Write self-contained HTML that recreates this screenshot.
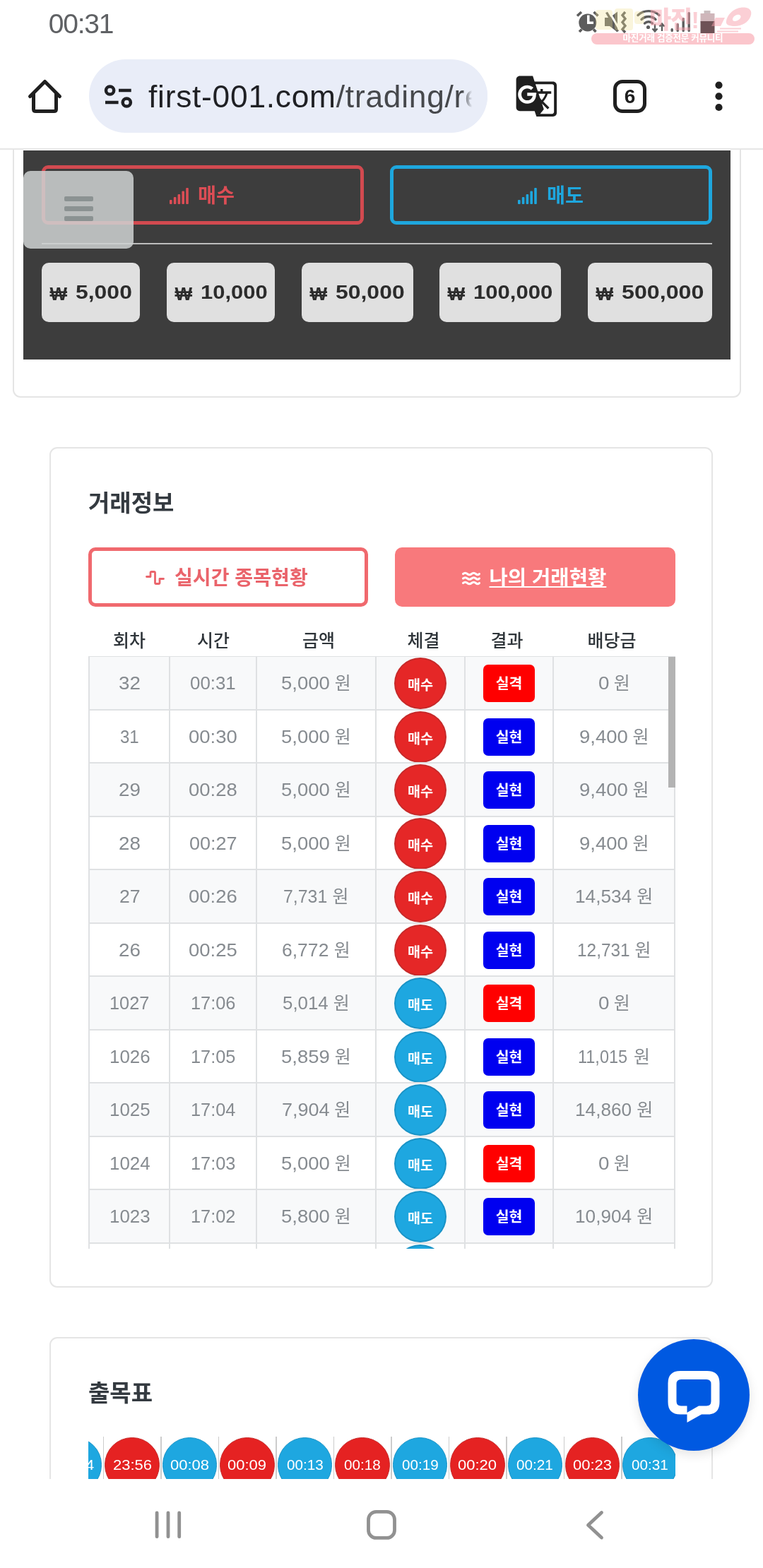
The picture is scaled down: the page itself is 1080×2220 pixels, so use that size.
<!DOCTYPE html>
<html lang="ko">
<head>
<meta charset="utf-8">
<title>first-001.com</title>
<style>
*{box-sizing:border-box;margin:0;padding:0}
html,body{width:1080px;height:2220px;overflow:hidden;background:#fff}
body{position:relative;font-family:"Liberation Sans","Noto Sans CJK KR",sans-serif;color:#212529}
.abs{position:absolute}
.n{display:inline-block;text-align:left;white-space:nowrap}
.n i{display:inline-block;font-style:normal;transform-origin:0 50%}
svg{position:absolute;overflow:visible}
/* status bar */
#time{left:68.700px;top:12px;font-size:39px;line-height:44px;color:#5f6164;letter-spacing:-1.2px;white-space:nowrap}
/* toolbar */
#pill{left:126px;top:84px;width:564px;height:104px;border-radius:52px;background:#e9edf8;overflow:hidden}
#url{left:84px;top:25.300px;font-size:44.300px;letter-spacing:.75px;line-height:56px;color:#1f2024;white-space:nowrap}
#urlfade{right:0;top:0;width:36px;height:104px;background:linear-gradient(90deg,rgba(233,237,248,0) 0,#e9edf8 40%)}
#tabs{left:868px;top:113px;width:47px;height:47px;border:5px solid #1f1f1f;border-radius:13px;font-size:28px;font-weight:700;line-height:37px;text-align:center;color:#1f1f1f}
#tbline{left:0;top:210px;z-index:3;width:1080px;height:2px;background:#e6e6e6}
/* page */
#page{left:0;top:0;width:1080px;height:2220px;clip-path:inset(212px 0 126px 0)}
#card1{left:18px;top:150px;width:1031px;height:413px;border:2px solid #e5e5e5;border-radius:11px;background:#fff}
#dark{left:33px;top:213px;width:1001px;height:296px;background:#3d3d3d}
.obtn{top:234px;height:84px;border:5px solid;border-radius:9px;font-size:28.3px;font-weight:700;white-space:nowrap}
.obtn span{position:absolute;top:0px;line-height:76px}
#buy{left:59px;width:456px;border-color:#d24a50;color:#dc4d55}
#sell{left:552px;width:456px;border-color:#1ea7de;color:#1ea7de}
#hr1{left:59px;top:344px;width:949px;height:2px;background:#bdbdbd}
.amt em{position:absolute;top:2px;font-style:normal;font-size:26px;line-height:84px}
.amt span{position:absolute;top:0;line-height:84px;transform:scaleX(1.16);transform-origin:0 50%}
.amt{top:372px;height:84px;border-radius:10px;background:#e0e0e0;color:#2c2c2c;font-weight:700;font-size:28px;white-space:nowrap}
#ham{left:33px;top:242px;width:156px;height:110px;border-radius:10px;background:rgba(206,210,210,.86)}
#ham i{position:absolute;left:58px;width:41px;height:7px;border-radius:2px;background:#8b9292}
.card{left:70px;width:939px;border:2px solid #e5e5e5;border-radius:11px;background:#fff}
.h{font-weight:700;font-size:33px;color:#343a40;white-space:nowrap}
.tab{top:775px;height:84px;border-radius:10px;font-size:27px;font-weight:700;white-space:nowrap}
.tab span{position:absolute;top:0;line-height:80px}
#tab1{left:125px;width:396px;border:5px solid #f0696e;color:#ea646b}
#tab2{left:559px;width:397px;background:#f8797c;color:#fff}
#thead{left:125px;top:886px;width:831px;height:42px;font-size:25px;font-weight:500;color:#2f353a}
#thead span{position:absolute;top:0;line-height:42px;text-align:center;white-space:nowrap}
#tbl{left:125px;top:929px;width:831px;height:839px;overflow:hidden}
.r{position:absolute;left:0;width:831px;border-top:2px solid #dfe1e3}
.r.o{background:#f8f9fa}
.r b{position:absolute;top:-2px;width:2px;height:78px;background:#dfe1e3}
.r>span{position:absolute;top:1px;height:74px;line-height:72px;text-align:center;font-size:25px;color:#868b90;white-space:nowrap}
.c{position:absolute;width:74px;height:73px;border-radius:50%;top:1px;left:433px;color:#fff;font-weight:700;font-size:19.600px;line-height:74px;text-align:center}
.c.b{background:#e52727;border:2px solid #c62a2a}
.c.s{background:#1ea7e0;border:2px solid #1a93c6}
.g{position:absolute;left:559px;top:11px;width:73px;height:53px;border-radius:7px;color:#fff;font-weight:700;font-size:20.5px;line-height:53px;text-align:center}
.g.l{background:#ff0000}
.g.w{background:#0000f0}
#sb{left:946px;top:930px;width:10px;height:185px;background:#b3b3b3}
#navbar{left:0;top:2094px;width:1080px;height:126px;background:#fff}
#fab{left:903px;top:1896px;width:158px;height:158px;border-radius:50%;background:#0059e1;box-shadow:0 5px 16px rgba(0,0,0,.11)}
#strip{left:125px;top:2030px;width:831px;height:64px;overflow:hidden}
.k{position:absolute;top:5px;width:77.500px;height:77.500px;border-radius:50%;color:#fff;font-size:20px;line-height:76px;text-align:center;white-space:nowrap}
.k.b{background:#e52222;border:1px solid #c62a2a}
.k.s{background:#1ea7e0;border:1px solid #1a93c6}
.v{position:absolute;top:4px;width:1.600px;height:60px;background:#cccccc}
/* watermark */
#wm{left:837px;top:47px;width:231px;height:16px;border-radius:8px;background:#fbc6cc;color:#fff;font-size:12.6px;font-weight:700;line-height:15px;text-align:center;white-space:nowrap;letter-spacing:-0.3px}
#wmlogo{left:919px;top:6px;font-size:34px;line-height:44px;font-weight:900;color:rgba(248,160,172,.5);white-space:nowrap;letter-spacing:-1.5px}
</style>
</head>
<body>
<!-- status bar -->
<div id="time" class="abs">00:31</div>
<svg id="sticons" style="left:800px;top:0" width="280" height="70" viewBox="800 0 280 70">
 <g fill="#5c5c5c" stroke="none">
  <circle cx="831.8" cy="32" r="12.5"/>
  <path d="M838 21.500h-3.500v12.500h9v-3.500h-5.500z" fill="#fff" transform="translate(-3.500,0)"/>
 </g>
 <g stroke="#5c5c5c" stroke-width="3.600" stroke-linecap="butt" fill="none">
  <path d="M817 22.500l6-5.500M846.500 22.500l-6-5.500M820 45l3.500-3.500M843.500 45l-3.500-3.500"/>
 </g>
 <!-- mute + vibrate -->
 <g fill="#5c5c5c">
  <path d="M856 25h7v12h-7zM863 25l11-8.500v29l-11-8.500z"/>
 </g>
 <path d="M862 16.500l16 27" stroke="#fff" stroke-width="3" fill="none"/>
 <path d="M858.500 17.500l16 27" stroke="#5c5c5c" stroke-width="3.400" fill="none"/>
 <path d="M885 17l-4 4.500 4 5-4 5 4 5-4 5 4 4.500" stroke="#5c5c5c" stroke-width="3.400" fill="none"/>
 <!-- wifi -->
 <g stroke="#5c5c5c" stroke-width="3.400" fill="none" stroke-linecap="round">
  <path d="M903 21.500a22 22 0 0 1 30 0"/>
  <path d="M908 27.500a14.500 14.500 0 0 1 20 0"/>
  <path d="M912.500 33a8 8 0 0 1 11 0"/>
 </g>
 <circle cx="917.500" cy="38.500" r="2.600" fill="#5c5c5c"/>
 <g stroke="#5c5c5c" stroke-width="2.400" fill="none">
  <path d="M927 34v10M923.500 40.500l3.500 4 3.500-4M937 44v-10M933.500 37.500l3.500-4 3.500 4"/>
 </g>
 <!-- signal -->
 <g fill="#5c5c5c">
  <rect x="949.500" y="40" width="3.400" height="5" rx="1.500"/>
  <rect x="957.500" y="33" width="3.400" height="12" rx="1.500"/>
  <rect x="965.500" y="25" width="3.400" height="20" rx="1.500"/>
  <rect x="973.500" y="17" width="3.400" height="28" rx="1.500"/>
 </g>
 <!-- battery -->
 <rect x="996.500" y="15" width="9" height="5" fill="#c9bcbe"/>
 <rect x="991.500" y="19" width="20" height="12" fill="#cfb6ba"/>
 <rect x="991.500" y="30" width="20" height="17" fill="#6e5256"/>
 <!-- watermark logo shapes -->
 <g fill="rgba(240,226,150,.33)">
  <rect x="843" y="14" width="24" height="28" rx="4"/><rect x="870" y="12" width="26" height="31" rx="4"/><rect x="898" y="16" width="14" height="18" rx="4"/>
 </g>
 <g fill="rgba(248,160,172,.5)">
  <path d="M1028 30C1030 18 1042 9.5 1054 10.5 1062 11.200 1065 16 1062.500 23 1059.500 31.500 1050 37 1040 37 1032 37 1027 35 1028 30ZM1037 27C1036.500 30 1040 31 1044 29 1047.500 27.500 1049.500 24 1048 22 1046.500 20 1042.500 20.500 1040 22.500 1038.500 23.500 1037.300 25 1037 27Z" fill-rule="evenodd"/>
  <path d="M1013 25h13l-6 12h-13z"/>
  <rect x="1019" y="39.500" width="30" height="2"/><rect x="1015" y="43.500" width="30" height="2"/>
 </g>
</svg>
<div id="wmlogo" class="abs">마진!</div>
<div id="wm" class="abs">마진거래 검증전문 커뮤니티</div>

<!-- toolbar -->
<svg style="left:0;top:84px" width="1080" height="104" viewBox="0 84 1080 104">
 <path d="M42.500 136.500L63.500 115.500 84.500 136.500M47.500 132.500V154.500Q47.500 157.600 50.600 157.600H76.400Q79.500 157.600 79.500 154.500V132.500" fill="none" stroke="#1f1f1f" stroke-width="5" stroke-linecap="round" stroke-linejoin="round"/>
</svg>
<div id="pill" class="abs"><div id="url" class="abs">first-001.com<span style="color:#46484c">/trading/re</span></div><div id="urlfade" class="abs"></div>
 <svg style="left:0;top:0" width="104" height="104" viewBox="126 84 104 104">
  <g fill="none" stroke="#1f2024" stroke-width="4.500">
   <circle cx="155.600" cy="128" r="5.600"/><circle cx="179.300" cy="145" r="5.600"/>
   <path d="M168 128h17.700M149 145h18.600"/>
  </g>
 </svg>
</div>
<svg style="left:728.200px;top:105px" width="62.700" height="62.700" viewBox="0 0 24 24"><path fill="#1f1f1f" d="M21 4H11l-1-3H3c-1.100 0-2 .9-2 2v15c0 1.100.9 2 2 2h8l1 3h9c1.100 0 2-.9 2-2V6c0-1.100-.9-2-2-2zM7 16c-2.760 0-5-2.240-5-5s2.240-5 5-5c1.350 0 2.480.5 3.350 1.300L9.030 8.570c-.38-.36-1.040-.78-2.030-.78-1.740 0-3.150 1.440-3.150 3.210S5.260 14.210 7 14.210c2.010 0 2.840-1.440 2.920-2.410H7v-1.710h4.680c.7.310.12.610.12 1.020C11.800 13.970 9.890 16 7 16zm6.170-5.420h3.700c-.43 1.250-1.110 2.430-2.050 3.470-.31-.35-.6-.72-.86-1.100l-.79-2.370zm8.330 9.920c0 .55-.45 1-1 1H14l2-2.500-1.040-3.100 3.100 3.100.92-.92-3.300-3.250.02-.02c1.130-1.250 1.930-2.690 2.400-4.220H20v-1.300h-4.530V8h-1.290v1.290h-1.440L11.460 5.500h9.040c.55 0 1 .45 1 1v14z"/></svg>
<div id="tabs" class="abs">6</div>
<svg style="left:1000px;top:100px" width="40" height="70" viewBox="1000 100 40 70"><g fill="#1f1f1f"><circle cx="1017.500" cy="120.600" r="5.100"/><circle cx="1017.500" cy="136.300" r="5.100"/><circle cx="1017.500" cy="152" r="5.100"/></g></svg>
<div id="tbline" class="abs"></div>

<!-- trading panel -->
<div id="page" class="abs">
<div id="card1" class="abs"></div>
<div id="dark" class="abs"></div>
<div id="buy" class="abs obtn">
 <svg style="left:176px;top:27px" width="27" height="23" viewBox="0 0 27 23" fill="#dc4d55"><rect x="0" y="17" width="3.600" height="6" rx="1"/><rect x="5.800" y="13" width="3.600" height="10" rx="1"/><rect x="11.600" y="9" width="3.600" height="14" rx="1"/><rect x="17.400" y="4.500" width="3.600" height="18.500" rx="1"/><rect x="23.200" y="0" width="3.600" height="23" rx="1"/></svg>
 <span style="left:216px">매수</span></div>
<div id="sell" class="abs obtn">
 <svg style="left:176px;top:27px" width="27" height="23" viewBox="0 0 27 23" fill="#1ea7de"><rect x="0" y="17" width="3.600" height="6" rx="1"/><rect x="5.800" y="13" width="3.600" height="10" rx="1"/><rect x="11.600" y="9" width="3.600" height="14" rx="1"/><rect x="17.400" y="4.500" width="3.600" height="18.500" rx="1"/><rect x="23.200" y="0" width="3.600" height="23" rx="1"/></svg>
 <span style="left:217px">매도</span></div>
<div id="hr1" class="abs"></div>
<div class="abs amt" style="left:59px;width:139px"><em style="left:11.500px">₩</em><span style="left:48px;transform:scaleX(1.14)">5,000</span></div>
<div class="abs amt" style="left:236px;width:153px"><em style="left:11.500px">₩</em><span style="left:48px;transform:scaleX(1.105)">10,000</span></div>
<div class="abs amt" style="left:427px;width:158px"><em style="left:11.500px">₩</em><span style="left:48px;transform:scaleX(1.14)">50,000</span></div>
<div class="abs amt" style="left:622px;width:172px"><em style="left:11.500px">₩</em><span style="left:48px;transform:scaleX(1.11)">100,000</span></div>
<div class="abs amt" style="left:832px;width:176px"><em style="left:11.500px">₩</em><span style="left:48px;transform:scaleX(1.15)">500,000</span></div>
<div id="ham" class="abs"><i style="top:36px"></i><i style="top:50px"></i><i style="top:64px"></i></div>

<!-- trade info card -->
<div class="abs card" style="top:633px;height:1190px"></div>
<div class="abs h" style="left:125px;top:691px;line-height:44px">거래정보</div>
<div id="tab1" class="abs tab">
 <svg style="left:76px;top:28px" width="27" height="20" viewBox="0 0 27 20"><path d="M1.500 8.500H7V3Q7 1.500 8.500 1.500H12Q13.500 1.500 13.500 3V17Q13.500 18.500 15 18.500H18.500Q20 18.500 20 17V11.500H25.500" fill="none" stroke="#ea646b" stroke-width="2.800" stroke-linecap="round" stroke-linejoin="round"/></svg>
 <span style="left:117px;top:-1px;font-size:28.1px">실시간 종목현황</span></div>
<div id="tab2" class="abs tab">
 <svg style="left:95px;top:33.500px" width="26" height="20" viewBox="0 0 26 20"><g fill="none" stroke="#fff" stroke-width="3" stroke-linecap="round"><path d="M1.500 3.500q3-2.500 6 0t6 0 6 0 5 0"/><path d="M1.500 10q3-2.500 6 0t6 0 6 0 5 0"/><path d="M1.500 16.500q3-2.500 6 0t6 0 6 0 5 0"/></g></svg>
 <span style="left:133.500px;top:3px;font-size:28.6px"><u>나의 거래현황</u></span></div>
<div id="thead" class="abs"><span style="left:0;width:116px">회차</span><span style="left:116px;width:122px">시간</span><span style="left:241px;width:170px">금액</span><span style="left:411.500px;width:126px">체결</span><span style="left:530.500px;width:124px">결과</span><span style="left:658px;width:166px">배당금</span></div>
<div id="tbl" class="abs">
<div class="r o" style="top:-1px;height:76px"><b style="left:0px"></b><b style="left:114px"></b><b style="left:237px"></b><b style="left:406px"></b><b style="left:532px"></b><b style="left:657px"></b><b style="left:829px"></b><span style="left:-1.6px;width:120px"><span class="n" style="width:30.9px"><i style="transform:scaleX(1.110)">32</i></span></span><span style="left:116.8px;width:120px"><span class="n" style="width:64.7px"><i style="transform:scaleX(1.034)">00:31</i></span></span><span style="left:242.5px;width:160px"><span class="n" style="width:68.8px"><i style="transform:scaleX(1.101)">5,000</i></span> 원</span><div class="c b">매수</div><div class="g l">실격</div><span style="left:664.2px;width:160px"><span class="n" style="width:15.4px"><i style="transform:scaleX(1.110)">0</i></span> 원</span></div>
<div class="r" style="top:75px;height:75px"><b style="left:0px"></b><b style="left:114px"></b><b style="left:237px"></b><b style="left:406px"></b><b style="left:532px"></b><b style="left:657px"></b><b style="left:829px"></b><span style="left:-1.6px;width:120px"><span class="n" style="width:26.7px"><i style="transform:scaleX(0.961)">31</i></span></span><span style="left:116.8px;width:120px"><span class="n" style="width:68.8px"><i style="transform:scaleX(1.101)">00:30</i></span></span><span style="left:242.5px;width:160px"><span class="n" style="width:68.8px"><i style="transform:scaleX(1.101)">5,000</i></span> 원</span><div class="c b">매수</div><div class="g w">실현</div><span style="left:664.2px;width:160px"><span class="n" style="width:68.8px"><i style="transform:scaleX(1.101)">9,400</i></span> 원</span></div>
<div class="r o" style="top:150px;height:76px"><b style="left:0px"></b><b style="left:114px"></b><b style="left:237px"></b><b style="left:406px"></b><b style="left:532px"></b><b style="left:657px"></b><b style="left:829px"></b><span style="left:-1.6px;width:120px"><span class="n" style="width:30.9px"><i style="transform:scaleX(1.110)">29</i></span></span><span style="left:116.8px;width:120px"><span class="n" style="width:68.8px"><i style="transform:scaleX(1.101)">00:28</i></span></span><span style="left:242.5px;width:160px"><span class="n" style="width:68.8px"><i style="transform:scaleX(1.101)">5,000</i></span> 원</span><div class="c b">매수</div><div class="g w">실현</div><span style="left:664.2px;width:160px"><span class="n" style="width:68.8px"><i style="transform:scaleX(1.101)">9,400</i></span> 원</span></div>
<div class="r" style="top:226px;height:75px"><b style="left:0px"></b><b style="left:114px"></b><b style="left:237px"></b><b style="left:406px"></b><b style="left:532px"></b><b style="left:657px"></b><b style="left:829px"></b><span style="left:-1.6px;width:120px"><span class="n" style="width:30.9px"><i style="transform:scaleX(1.110)">28</i></span></span><span style="left:116.8px;width:120px"><span class="n" style="width:67.6px"><i style="transform:scaleX(1.081)">00:27</i></span></span><span style="left:242.5px;width:160px"><span class="n" style="width:68.8px"><i style="transform:scaleX(1.101)">5,000</i></span> 원</span><div class="c b">매수</div><div class="g w">실현</div><span style="left:664.2px;width:160px"><span class="n" style="width:68.8px"><i style="transform:scaleX(1.101)">9,400</i></span> 원</span></div>
<div class="r o" style="top:301px;height:76px"><b style="left:0px"></b><b style="left:114px"></b><b style="left:237px"></b><b style="left:406px"></b><b style="left:532px"></b><b style="left:657px"></b><b style="left:829px"></b><span style="left:-1.6px;width:120px"><span class="n" style="width:29.6px"><i style="transform:scaleX(1.066)">27</i></span></span><span style="left:116.8px;width:120px"><span class="n" style="width:68.8px"><i style="transform:scaleX(1.101)">00:26</i></span></span><span style="left:242.5px;width:160px"><span class="n" style="width:62.2px"><i style="transform:scaleX(0.995)">7,731</i></span> 원</span><div class="c b">매수</div><div class="g w">실현</div><span style="left:664.2px;width:160px"><span class="n" style="width:80.1px"><i style="transform:scaleX(1.048)">14,534</i></span> 원</span></div>
<div class="r" style="top:377px;height:75px"><b style="left:0px"></b><b style="left:114px"></b><b style="left:237px"></b><b style="left:406px"></b><b style="left:532px"></b><b style="left:657px"></b><b style="left:829px"></b><span style="left:-1.6px;width:120px"><span class="n" style="width:30.9px"><i style="transform:scaleX(1.110)">26</i></span></span><span style="left:116.8px;width:120px"><span class="n" style="width:68.8px"><i style="transform:scaleX(1.101)">00:25</i></span></span><span style="left:242.5px;width:160px"><span class="n" style="width:66.4px"><i style="transform:scaleX(1.061)">6,772</i></span> 원</span><div class="c b">매수</div><div class="g w">실현</div><span style="left:664.2px;width:160px"><span class="n" style="width:74.7px"><i style="transform:scaleX(0.977)">12,731</i></span> 원</span></div>
<div class="r o" style="top:452px;height:76px"><b style="left:0px"></b><b style="left:114px"></b><b style="left:237px"></b><b style="left:406px"></b><b style="left:532px"></b><b style="left:657px"></b><b style="left:829px"></b><span style="left:-1.6px;width:120px"><span class="n" style="width:56.3px"><i style="transform:scaleX(1.013)">1027</i></span></span><span style="left:116.8px;width:120px"><span class="n" style="width:63.5px"><i style="transform:scaleX(1.014)">17:06</i></span></span><span style="left:242.5px;width:160px"><span class="n" style="width:64.7px"><i style="transform:scaleX(1.034)">5,014</i></span> 원</span><div class="c s">매도</div><div class="g l">실격</div><span style="left:664.2px;width:160px"><span class="n" style="width:15.4px"><i style="transform:scaleX(1.110)">0</i></span> 원</span></div>
<div class="r" style="top:528px;height:75px"><b style="left:0px"></b><b style="left:114px"></b><b style="left:237px"></b><b style="left:406px"></b><b style="left:532px"></b><b style="left:657px"></b><b style="left:829px"></b><span style="left:-1.6px;width:120px"><span class="n" style="width:57.6px"><i style="transform:scaleX(1.036)">1026</i></span></span><span style="left:116.8px;width:120px"><span class="n" style="width:63.5px"><i style="transform:scaleX(1.014)">17:05</i></span></span><span style="left:242.5px;width:160px"><span class="n" style="width:68.8px"><i style="transform:scaleX(1.101)">5,859</i></span> 원</span><div class="c s">매도</div><div class="g w">실현</div><span style="left:664.2px;width:160px"><span class="n" style="width:71.8px"><i style="transform:scaleX(0.939)">11,015</i></span> 원</span></div>
<div class="r o" style="top:603px;height:76px"><b style="left:0px"></b><b style="left:114px"></b><b style="left:237px"></b><b style="left:406px"></b><b style="left:532px"></b><b style="left:657px"></b><b style="left:829px"></b><span style="left:-1.6px;width:120px"><span class="n" style="width:57.6px"><i style="transform:scaleX(1.036)">1025</i></span></span><span style="left:116.8px;width:120px"><span class="n" style="width:63.5px"><i style="transform:scaleX(1.014)">17:04</i></span></span><span style="left:242.5px;width:160px"><span class="n" style="width:67.6px"><i style="transform:scaleX(1.081)">7,904</i></span> 원</span><div class="c s">매도</div><div class="g w">실현</div><span style="left:664.2px;width:160px"><span class="n" style="width:80.1px"><i style="transform:scaleX(1.048)">14,860</i></span> 원</span></div>
<div class="r" style="top:679px;height:75px"><b style="left:0px"></b><b style="left:114px"></b><b style="left:237px"></b><b style="left:406px"></b><b style="left:532px"></b><b style="left:657px"></b><b style="left:829px"></b><span style="left:-1.6px;width:120px"><span class="n" style="width:57.6px"><i style="transform:scaleX(1.036)">1024</i></span></span><span style="left:116.8px;width:120px"><span class="n" style="width:63.5px"><i style="transform:scaleX(1.014)">17:03</i></span></span><span style="left:242.5px;width:160px"><span class="n" style="width:68.8px"><i style="transform:scaleX(1.101)">5,000</i></span> 원</span><div class="c s">매도</div><div class="g l">실격</div><span style="left:664.2px;width:160px"><span class="n" style="width:15.4px"><i style="transform:scaleX(1.110)">0</i></span> 원</span></div>
<div class="r o" style="top:754px;height:76px"><b style="left:0px"></b><b style="left:114px"></b><b style="left:237px"></b><b style="left:406px"></b><b style="left:532px"></b><b style="left:657px"></b><b style="left:829px"></b><span style="left:-1.6px;width:120px"><span class="n" style="width:57.6px"><i style="transform:scaleX(1.036)">1023</i></span></span><span style="left:116.8px;width:120px"><span class="n" style="width:63.5px"><i style="transform:scaleX(1.014)">17:02</i></span></span><span style="left:242.5px;width:160px"><span class="n" style="width:68.8px"><i style="transform:scaleX(1.101)">5,800</i></span> 원</span><div class="c s">매도</div><div class="g w">실현</div><span style="left:664.2px;width:160px"><span class="n" style="width:80.1px"><i style="transform:scaleX(1.048)">10,904</i></span> 원</span></div>
<div class="r" style="top:830px;height:75px"><b style="left:0px"></b><b style="left:114px"></b><b style="left:237px"></b><b style="left:406px"></b><b style="left:532px"></b><b style="left:657px"></b><b style="left:829px"></b><div class="c s"></div></div>
</div>
<div id="sb" class="abs"></div>

<!-- history card -->
<div class="abs card" style="top:1893px;height:400px"></div>
<div class="abs h" style="left:125px;top:1951px;line-height:44px">출목표</div>
<div id="strip" class="abs">
<div class="k s" style="left:-58.2px;text-align:left;padding-left:53.05px"><span class="n"><i style="transform:scaleX(1.101)">4</i></span></div>
<i class="v" style="left:20.9px"></i><div class="k b" style="left:23.3px"><span class="n" style="width:55.1px"><i style="transform:scaleX(1.101)">23:56</i></span></div>
<i class="v" style="left:102.3px"></i><div class="k s" style="left:104.7px"><span class="n" style="width:55.1px"><i style="transform:scaleX(1.101)">00:08</i></span></div>
<i class="v" style="left:183.8px"></i><div class="k b" style="left:186.2px"><span class="n" style="width:55.1px"><i style="transform:scaleX(1.101)">00:09</i></span></div>
<i class="v" style="left:265.2px"></i><div class="k s" style="left:267.7px"><span class="n" style="width:51.7px"><i style="transform:scaleX(1.034)">00:13</i></span></div>
<i class="v" style="left:346.7px"></i><div class="k b" style="left:349.1px"><span class="n" style="width:51.7px"><i style="transform:scaleX(1.034)">00:18</i></span></div>
<i class="v" style="left:428.2px"></i><div class="k s" style="left:430.6px"><span class="n" style="width:51.7px"><i style="transform:scaleX(1.034)">00:19</i></span></div>
<i class="v" style="left:509.6px"></i><div class="k b" style="left:512.0px"><span class="n" style="width:55.1px"><i style="transform:scaleX(1.101)">00:20</i></span></div>
<i class="v" style="left:591.1px"></i><div class="k s" style="left:593.5px"><span class="n" style="width:51.7px"><i style="transform:scaleX(1.034)">00:21</i></span></div>
<i class="v" style="left:672.5px"></i><div class="k b" style="left:674.9px"><span class="n" style="width:55.1px"><i style="transform:scaleX(1.101)">00:23</i></span></div>
<i class="v" style="left:754.0px"></i><div class="k s" style="left:756.4px"><span class="n" style="width:51.7px"><i style="transform:scaleX(1.034)">00:31</i></span></div>
</div>
<div id="fab" class="abs">
 <svg style="left:0;top:0" width="158" height="158" viewBox="903 1896 158 158">
  <path d="M963 1941H1001Q1018.500 1941 1018.500 1958.500V1985Q1018.500 2002.500 1001 2002.500H993L972.500 2014V2002.500H963Q945.500 2002.500 945.500 1985V1958.500Q945.500 1941 963 1941ZM964 1953Q957.500 1953 957.500 1959.500V1984Q957.500 1990.500 964 1990.500H972.500V2000L989 1990.500H1000Q1006.500 1990.500 1006.500 1984V1959.500Q1006.500 1953 1000 1953Z" fill="#fff" fill-rule="evenodd"/>
 </svg>
</div>
</div>
<div id="navbar" class="abs"></div>
<svg style="left:0;top:2093px" width="1080" height="127" viewBox="0 2093 1080 127">
 <g fill="none" stroke="#919191" stroke-width="4.800" stroke-linecap="round" stroke-linejoin="round">
  <path d="M222.100 2141.800V2175.700M238 2141.800V2175.700M253.700 2141.800V2175.700"/>
  <rect x="521.500" y="2140.400" width="37" height="37" rx="11"/>
  <path d="M851.500 2141.500L832.500 2159.300 851.500 2177"/>
 </g>
</svg>

</body>
</html>
